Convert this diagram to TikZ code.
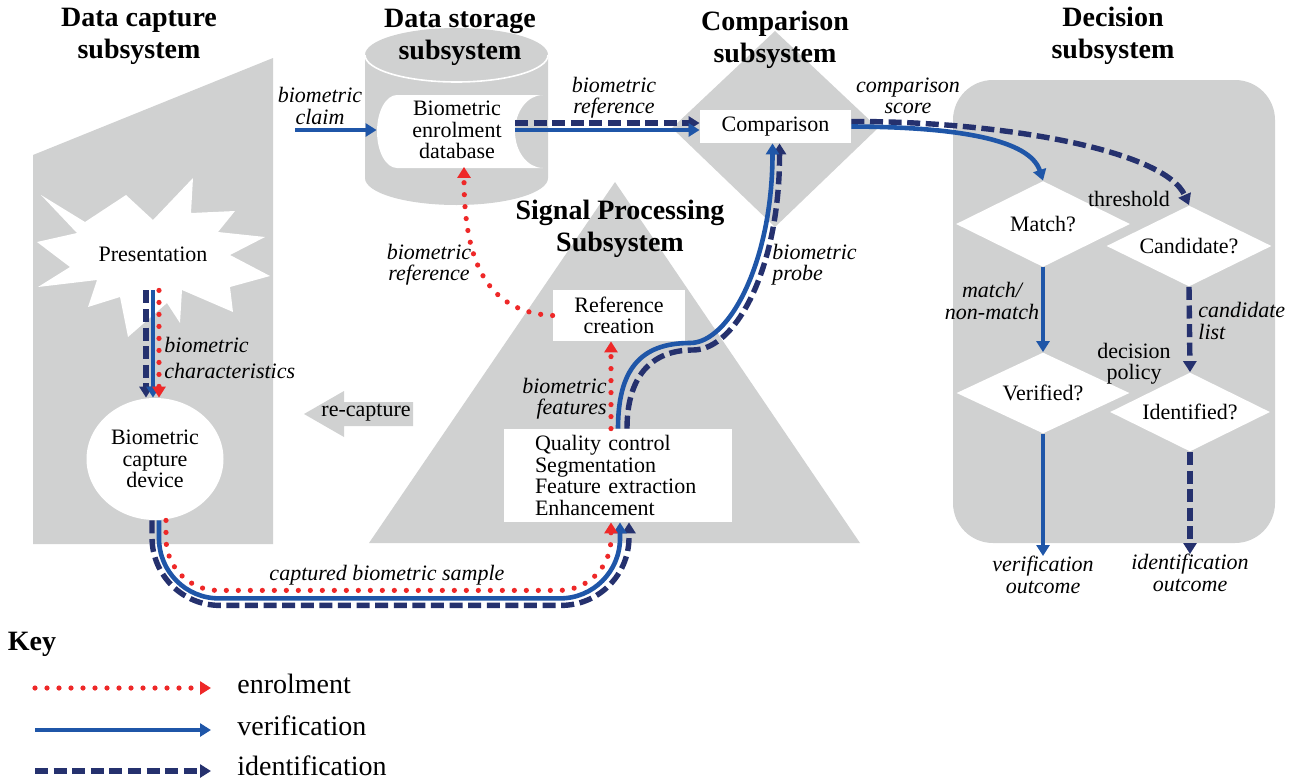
\documentclass[tikz,border=0pt]{standalone}
\usepackage{fontspec}
\setmainfont{Liberation Serif}
\usepackage{tikz}
\usetikzlibrary{shapes.geometric}
\usetikzlibrary{arrows.meta}
\definecolor{bggray}{RGB}{208,209,209}
\definecolor{enrolred}{RGB}{238,40,40}
\definecolor{verblue}{RGB}{31,86,168}
\definecolor{idnavy}{RGB}{37,49,110}
\tikzset{>={Triangle[length=5.5pt,width=6.5pt]}}
\tikzset{
  enrolline/.style={draw=enrolred, line width=2.6pt, dash pattern=on 0pt off 6pt, line cap=round},
  verline/.style={draw=verblue, line width=2.3pt},
  idline/.style={draw=idnavy, line width=2.7pt, dash pattern=on 6.5pt off 2.8pt},
  head/.style={font=\fontsize{14}{16}\selectfont\bfseries, align=center, inner sep=0pt},
  txt/.style={font=\fontsize{11}{10.6}\selectfont, align=center, inner sep=0pt},
  lbl/.style={font=\fontsize{11}{10.6}\selectfont\itshape, align=center, inner sep=0pt},
  wbox/.style={fill=white},
  dec/.style={diamond, aspect=2, fill=white, inner sep=0pt, font=\fontsize{11}{10.6}\selectfont},
  keytxt/.style={font=\fontsize{14}{16}\selectfont, anchor=west, inner sep=0pt}
}

\begin{document}
\begin{tikzpicture}[x=0.5pt, y=-0.5pt]
      \useasboundingbox (0,0) rectangle (1300,782);
      % subsystem shapes
      \fill[bggray] (33,155) -- (273,58) -- (273,544) -- (33,544) -- cycle;
      \fill[bggray] (365,55) -- (365,178) arc[start angle=180, end angle=360, x radius=45.75pt, y radius=13.5pt]
            -- (548,55) arc[start angle=0, end angle=180, x radius=45.75pt, y radius=13.5pt] -- cycle;
      \draw[white, line width=0.8pt] (365,55) arc[start angle=180, end angle=360, x radius=45.75pt, y radius=13.5pt];
      \fill[bggray] (672,128) -- (775,31) -- (878,128) -- (775,227) -- cycle;
      \fill[bggray] (615,182) -- (860,543) -- (369,543) -- cycle;
      \fill[bggray, rounded corners=20pt] (953,80) rectangle (1275,543);
      \fill[bggray] (304,414) -- (344,391) -- (344,402) -- (413,402) -- (413,426) -- (344,426) -- (344,437) -- cycle;

      \fill[white] (37,242) -- (77,233) -- (41,195) -- (85,222) -- (126,195) -- (153,220) -- (193,178)
            -- (191,213) -- (235,211) -- (218,232) -- (265,237) -- (230,255) -- (270,276) -- (230,287)
            -- (233,312) -- (182,290) -- (180,323) -- (167,303) -- (128,337) -- (120,297) -- (88,307)
            -- (97,280) -- (38,287) -- (70,267) -- cycle;
      \fill[white] (397,95) -- (543,95) arc[start angle=90, end angle=270, x radius=14pt, y radius=18.25pt]
            -- (397,168) arc[start angle=270, end angle=90, x radius=10pt, y radius=18.25pt] -- cycle;

      \node (hcap) at (139,36) [head] {Data capture\\subsystem};
      \node (hsto) at (460,37) [head] {Data storage\\subsystem};
      \node (hcmp) at (775,40) [head] {Comparison\\subsystem};
      \node (hdec) at (1113,36) [head] {Decision\\subsystem};
      \node (hsig) at (620,229) [head] {Signal Processing\\Subsystem};

      \node (pres) at (153,254) [txt, minimum height=36pt] {Presentation};
      \node (dev) at (155,459) [ellipse, fill=white, txt, minimum width=68.5pt, minimum height=61pt] {Biometric\\capture\\device};
      \node (db) at (457,130) [txt, minimum width=80pt, minimum height=36.5pt] {Biometric\\enrolment\\database};
      \node (cmp) at (775.5,126.5) [wbox, txt, minimum width=75.5pt, minimum height=16.5pt] {Comparison};
      \node (refc) at (619,315.5) [wbox, txt, minimum width=66pt, minimum height=25.5pt] {Reference\\creation};
      \node (qc) at (618,475.5) [fill=white, font=\fontsize{11}{10.7}\selectfont, align=left, text width=83pt,
            inner xsep=15.5pt, inner ysep=0pt, minimum height=46.5pt] {Quality control\\Segmentation\\Feature extraction\\Enhancement};
      \node (rec) at (366,413) [txt] {re-capture};

      \node (match) at (1043,224) [dec, minimum width=87pt, minimum height=43pt] {Match?};
      \node (cand) at (1189,246) [dec, minimum width=82.5pt, minimum height=40.5pt] {Candidate?};
      \node (verified) at (1043,393) [dec, minimum width=86.5pt, minimum height=40.5pt] {Verified?};
      \node (identified) at (1190,412) [dec, minimum width=80pt, minimum height=39.5pt] {Identified?};
      \node (thr) at (1129,199) [txt] {threshold};
      \node (pol) at (1134,364) [txt] {decision\\policy};

      \coordinate (claim) at (295,130);
      \coordinate (dbr) at (515,126.5);
      \draw[verline,->] (claim) -- (db.west);
      \draw[idline,->] ([yshift=1.75pt]dbr) -- ([yshift=1.75pt]cmp.west);
      \draw[verline,->] ([yshift=-1.75pt]dbr) -- ([yshift=-1.75pt]cmp.west);

      \draw[idline,->] ([xshift=-3.5pt]pres.south) -- ([xshift=-3.5pt]pres.south |- dev.north);
      \draw[verline,->] (pres.south) -- (pres.south |- dev.north);
      \draw[enrolline,->] ([xshift=3pt]pres.south) -- ([xshift=3pt]pres.south |- dev.north);

      \draw[idline,->,rounded corners=34pt] ([xshift=-1.5pt]dev.south) |- ([xshift=5.5pt,yshift=-41.5pt]qc.south) -- ([xshift=5.5pt]qc.south);
      \draw[verline,->,rounded corners=30pt] ([xshift=2pt]dev.south) |- ([xshift=1pt,yshift=-38pt]qc.south) -- ([xshift=1pt]qc.south);
      \draw[enrolline,->,rounded corners=26pt] ([xshift=5.5pt]dev.south) |- ([xshift=-3.5pt,yshift=-34pt]qc.south) -- ([xshift=-3.5pt]qc.south);

      \draw[enrolline,->] ([xshift=-3.5pt]qc.north) -- ([xshift=-3.5pt]qc.north |- refc.south);
      \draw[enrolline,->] (refc.west) .. controls (480,312) and (464,250) .. ([xshift=3.5pt]db.south);

      \draw[idline,->] ([xshift=4.5pt]qc.north) .. controls (627,378) and (650,350) .. (693,350)
            .. controls (737,350) and (780,265) .. ([xshift=2pt]cmp.south);
      \draw[verline,->] (qc.north) .. controls (618,370) and (640,343) .. (690,343)
            .. controls (730,343) and (772.5,260) .. ([xshift=-1.5pt]cmp.south);

      \draw[idline,->] ([yshift=2.5pt]cmp.east) .. controls (1000,121) and (1165,150) .. (cand.north);
      \draw[verline,->] (cmp.east) .. controls (960,127) and (1030,140) .. (match.north);

      \node (vout) at (1043,556) [lbl, anchor=north] {verification\\outcome};
      \node (iout) at (1190,554) [lbl, anchor=north] {identification\\outcome};
      \draw[verline,->] (match.south) -- (verified.north);
      \draw[idline,->] (cand.south) -- (identified.north);
      \draw[verline,->] (verified.south) -- (vout.north);
      \draw[idline,->] (identified.south) -- (iout.north);

      \node (lclaim) at (320,106) [lbl] {biometric\\claim};
      \node (lref) at (614,98) [lbl] {biometric\\reference};
      \node (lscore) at (908,96) [lbl] {comparison\\score};
      \node (lchar) at (164,358) [lbl, anchor=west, align=left] {biometric\\[2.4pt]characteristics};
      \node (lref2) at (429,265) [lbl] {biometric\\reference};
      \node (lfeat) at (607,399) [lbl, anchor=east, align=right] {biometric\\features};
      \node (lprobe) at (772,265) [lbl, anchor=west, align=left] {biometric\\probe};
      \node (lsample) at (387,575) [lbl] {captured biometric sample};
      \node (lmatch) at (992,301) [lbl] {match/\\non-match};
      \node (lcand) at (1198,321) [lbl, anchor=west, align=left] {candidate\\list};

      \node (key) at (32,644) [font=\fontsize{14}{16}\selectfont\bfseries, inner sep=0pt] {Key};
      \coordinate (k1a) at (35,688);
      \coordinate (k1b) at (211,688);
      \coordinate (k2a) at (35,730);
      \coordinate (k2b) at (211,730);
      \coordinate (k3a) at (35,771);
      \coordinate (k3b) at (211,771);
      \draw[enrolline,->] (k1a) -- (k1b);
      \draw[verline,->] (k2a) -- (k2b);
      \draw[idline,->] (k3a) -- (k3b);
      \node (k1) at (237,684) [keytxt] {enrolment};
      \node (k2) at (237,726) [keytxt] {verification};
      \node (k3) at (237,766) [keytxt] {identification};
\end{tikzpicture}
\end{document}
